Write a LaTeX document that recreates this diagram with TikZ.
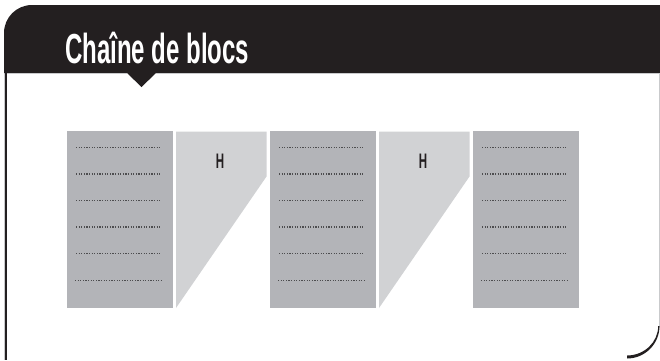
\documentclass[tikz,border=0pt]{standalone}
\usepackage{fontspec}
\setmainfont{Liberation Sans}
\definecolor{hdr}{HTML}{231F20}
\definecolor{blk}{HTML}{B3B4B8}
\definecolor{trap}{HTML}{D1D2D4}
\definecolor{dots}{HTML}{4D4D4F}
\definecolor{edge}{HTML}{C9CACC}
\tikzset{
  blockbox/.style={fill=blk, draw=none, minimum width=106pt, minimum height=177pt, inner sep=0pt, anchor=north west},
  trapfill/.style={fill=trap, draw=none},
  dotline/.style={draw=dots, line width=1.1pt, dash pattern=on 1.1pt off 1.5pt},
  hlabel/.style={font=\fontsize{21}{21}\selectfont\bfseries, text=hdr, inner sep=0pt}
}
\begin{document}
\begin{tikzpicture}[x=1pt,y=-1pt]
\useasboundingbox (0,0) rectangle (660,360);
\fill[white] (0,0) rectangle (660,360);
% frame sides
\draw[edge, line width=1pt] (659,73) -- (659,328);
\draw[edge, line width=1pt] (4.2,40) -- (4.2,360);
\draw[hdr, line width=2.4pt] (6,40) -- (6,360);
% bottom right curve
\fill[hdr] (659.5,326) .. controls (659.5,343.7) and (645.2,358.5) .. (627,358.5)
  -- (627,355.5) .. controls (644.4,355.5) and (658.2,342) .. (658.2,326) -- cycle;
% header
\fill[hdr] (4,73) -- (4,33) .. controls (4,17.5) and (16.5,5) .. (32,5) -- (660,5) -- (660,73)
  -- (156,73) -- (141.5,87) -- (127,73) -- cycle;
\draw[edge, line width=0.6pt] (7,73.3) -- (127,73.3) (156,73.3) -- (660,73.3);
\node[anchor=base west, inner sep=0pt, text=white, font=\fontsize{42}{42}\selectfont\bfseries] (title) at (65,63.5)
  {\resizebox{184pt}{\height}{Chaîne de blocs}};
% blocks
\foreach \i/\x in {1/67,2/270,3/473}{
  \node[blockbox] (b\i) at (\x,131) {};
  \foreach \y in {147.3,174,200.7,227,253.7} {
    \draw[dotline] (\x+9,\y) -- (\x+93,\y);
  }
  \draw[dotline] (\x+8,280.3) -- (\x+95,280.3);
}
% hash trapezoids
\foreach \i/\x in {1/176,2/379}{
  \fill[trapfill] (\x,131.5) -- (\x+90.5,131.5) -- (\x+90.5,176.5) -- (\x,308) -- cycle;
  \node[hlabel] (h\i) at (\x+44,161.5) {\scalebox{0.55}[1]{H}};
}
\end{tikzpicture}
\end{document}
